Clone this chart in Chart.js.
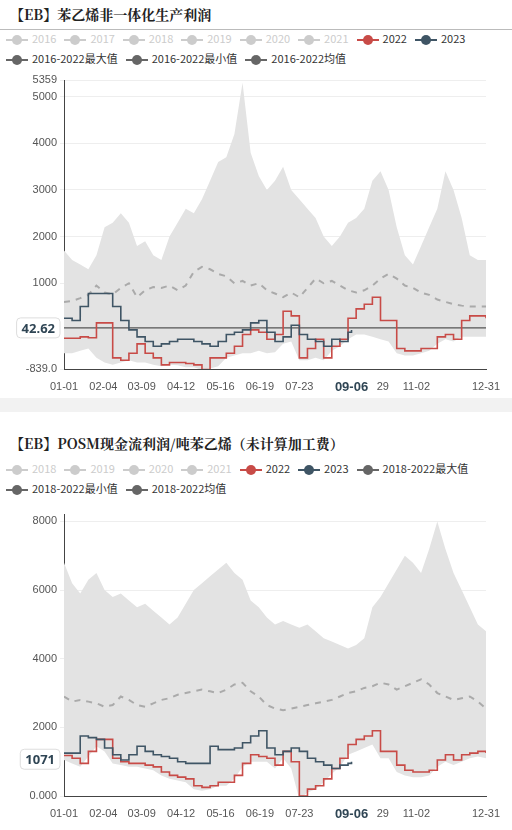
<!DOCTYPE html>
<html lang="zh">
<head>
<meta charset="UTF-8">
<script src="https://cdn.jsdelivr.net/npm/chart.js"></script>
<style>
  body { margin: 0; width: 512px; height: 830px; position: relative; background: #fff; font-family: "Noto Sans CJK SC", "Noto Sans", sans-serif; overflow: hidden; }
  .title { position: absolute; left: 10px; font-family: "Noto Serif CJK SC", "Noto Sans CJK SC", serif; font-weight: bold; font-size: 14px; color: #222; }
  .rule { position: absolute; left: 0; width: 512px; height: 1px; background: #bbb; }
  .gap { position: absolute; left: 0; top: 398px; width: 512px; height: 14px; background: #f2f2f2; }
  .legend { position: absolute; left: 6px; width: 506px; font-size: 11px; color: #333; }
  .legend span { display: inline-block; margin-right: 8px; line-height: 20px; white-space: nowrap; }
  .legend i { display: inline-block; position: relative; width: 22px; height: 2px; vertical-align: middle; margin-right: 4px; }
  .legend i::after { content: ""; position: absolute; left: 6px; top: -4px; width: 10px; height: 10px; border-radius: 50%; background: inherit; }
  .wrap { position: absolute; left: 0; width: 512px; }
</style>
</head>
<body>
<div class="title" style="top:4px">【EB】苯乙烯非一体化生产利润</div>
<div class="rule" style="top:29px"></div>
<div class="legend" id="leg1" style="top:28px"></div>
<div class="wrap" style="top:70px;height:330px"><canvas id="c1"></canvas></div>
<div class="gap"></div>
<div class="title" style="top:433px">【EB】POSM现金流利润/吨苯乙烯（未计算加工费）</div>
<div class="legend" id="leg2" style="top:458px"></div>
<div class="wrap" style="top:505px;height:325px"><canvas id="c2"></canvas></div>

<script>
// shared x: day of year, weekly samples
const days = [0,7,14,21,28,35,42,49,56,63,70,77,84,91,98,105,112,119,126,133,140,147,154,161,168,175,182,189,196,203,210,217,224,231,238,245,252,259,266,273,280,287,294,301,308,315,322,329,336,343,350,357,364];
const days23 = [0,7,14,21,28,35,42,49,56,63,70,77,84,91,98,105,112,119,126,133,140,147,154,161,168,175,182,189,196,203,210,217,224,231,238,245,248];
const tickDays = [0,34,67,101,135,169,203,248,275,304,364];
const tickLabels = ['01-01','02-04','03-09','04-12','05-16','06-19','07-23','09-06','29','11-02','12-31'];

// chart 1: 苯乙烯非一体化生产利润
const max1 = [1700,1500,1400,1300,1600,2200,2300,2500,2300,1800,1900,1600,1500,2000,2300,2600,2500,2800,3200,3600,3700,4200,5300,3800,3300,3000,3200,3500,3000,2800,2600,2400,2000,1800,2000,2300,2400,2600,3200,3400,3000,2200,1600,1400,1800,2200,2600,3400,3000,2400,1600,1500,1500];
const min1 = [-500,-500,-450,-400,-600,-700,-750,-700,-650,-700,-700,-750,-780,-750,-760,-800,-800,-860,-830,-780,-600,-550,-500,-500,-450,-500,-480,-300,-250,-650,-650,-600,-650,-450,-350,-200,-100,-100,-150,-200,-250,-500,-550,-550,-500,-450,-300,-200,-250,-150,-150,-150,-150];
const mean1 = [600,620,680,750,950,800,760,900,1000,700,850,920,900,950,850,950,1250,1350,1300,1200,1150,1000,1050,950,1000,850,780,700,800,700,900,1100,1000,1050,950,850,800,850,950,1100,1200,1100,950,900,800,750,650,600,550,520,500,500,500];
const y2022a = [-180,-180,-150,-170,150,150,-600,-650,-500,-300,-500,-600,-750,-700,-700,-720,-750,-850,-600,-600,-500,-350,-100,0,-50,-200,-100,400,300,-600,-400,-200,-600,-350,-200,250,450,550,700,200,200,-400,-450,-450,-400,-400,-150,-100,-200,200,300,300,250];
const y2023a = [250,200,500,780,780,780,500,200,0,-150,-250,-350,-300,-250,-200,-200,-250,-300,-350,-250,-100,-50,0,150,200,-50,-250,-150,100,-100,-200,-250,-350,-200,-250,-50,0];
const last1 = 42.62;

// chart 2: POSM现金流利润
const max2 = [6800,6200,5900,6300,6500,6000,5800,5900,5700,5500,5600,5400,5200,5000,5200,5600,6000,6200,6400,6600,6800,6500,6300,5700,5500,5200,5000,5100,5000,4900,5000,4800,4600,4500,4400,4300,4400,4600,5500,5800,6200,6600,7000,6800,6500,7200,8000,7200,6500,6000,5500,5000,4800];
const min2 = [1050,950,850,1150,1450,1300,950,900,850,850,800,750,600,500,450,400,200,150,200,300,300,500,850,1000,1000,1000,800,1100,800,-100,100,200,400,650,850,1200,1300,1400,1500,1100,1100,700,600,550,550,600,850,1000,900,1000,1100,1150,1100];
const mean2 = [2900,2750,2800,2750,2700,2600,2650,2900,2800,2650,2600,2700,2800,2850,2950,3000,3050,3100,3050,3000,3100,3250,3300,3050,2900,2650,2550,2500,2550,2600,2650,2700,2750,2800,2900,3000,3050,3150,3200,3300,3250,3100,3200,3300,3400,3250,3000,2900,2800,2850,2900,2750,2550];
const y2022b = [1180,1100,950,1300,1650,1650,1100,1000,950,950,900,850,700,600,550,500,300,250,300,400,400,600,950,1200,1150,1100,900,1300,1000,0,200,300,500,800,1100,1500,1650,1750,1900,1300,1300,900,750,700,700,750,1050,1200,1050,1200,1250,1300,1250];
const y2023b = [1250,1250,1750,1700,1650,1400,1200,1050,1200,1450,1300,1200,1150,1100,1000,950,950,950,1450,1350,1350,1400,1550,1750,1900,1400,1200,1300,1400,1300,1100,1000,900,800,900,950,1000];
const last2 = 1071;

const RED = '#c84b47', DARK = '#3f5565', GRAY = '#666';

function legend(id, years, stat) {
  const el = document.getElementById(id);
  let html = '';
  years.forEach(y => html += `<span style="color:#ccc"><i style="background:#ccc"></i>${y}</span>`);
  html += `<span><i style="background:${RED}"></i>2022</span><span><i style="background:${DARK}"></i>2023</span>`;
  ['最大值', '最小值', '均值'].forEach(s => html += `<span><i style="background:${GRAY}"></i>${stat}${s}</span>`);
  el.innerHTML = html;
}
legend('leg1', ['2016','2017','2018','2019','2020','2021'], '2016-2022');
legend('leg2', ['2018','2019','2020','2021'], '2018-2022');

const pts = (xs, ys) => ys.map((v, i) => ({ x: xs[i], y: v }));

const valueBox = {
  id: 'valueBox',
  afterDraw(chart, args, opts) {
    const { ctx, scales: { y } } = chart;
    const py = y.getPixelForValue(opts.value);
    ctx.save();
    ctx.font = 'bold 13px "Noto Sans", sans-serif';
    const w = ctx.measureText(opts.text).width + 10;
    const x0 = y.right - w - 4;
    ctx.fillStyle = '#fff';
    ctx.strokeStyle = '#ddd';
    ctx.beginPath();
    ctx.roundRect(x0, py - 10, w, 20, 4);
    ctx.fill(); ctx.stroke();
    ctx.fillStyle = '#2f4554';
    ctx.textBaseline = 'middle';
    ctx.fillText(opts.text, x0 + 5, py + 1);
    ctx.restore();
  }
};

function makeChart(id, c) {
  // lower order is drawn on top
  const datasets = [
    { data: pts(days, c.max), borderWidth: 0, pointRadius: 0, fill: '+1', backgroundColor: '#e3e3e3', order: 10 },
    { data: pts(days, c.min), borderWidth: 0, pointRadius: 0, fill: false, order: 11 },
    { data: pts(days, c.mean), borderColor: '#aaa', borderWidth: 2, borderDash: [6, 6], pointRadius: 0, fill: false, order: 5 },
    { data: pts(days, c.r), borderColor: RED, borderWidth: 1.6, pointRadius: 0, stepped: true, fill: false, order: 3 },
    { data: pts(days23, c.d), borderColor: DARK, borderWidth: 1.6, pointRadius: 0, stepped: true, fill: false, order: 2 }
  ];
  if (c.hline) datasets.push({ data: [{ x: 0, y: c.last }, { x: 364, y: c.last }], borderColor: '#555', borderWidth: 1.2, pointRadius: 0, fill: false, order: 4 });
  return new Chart(document.getElementById(id), {
    type: 'line',
    data: { datasets },
    plugins: [valueBox],
    options: {
      responsive: true, maintainAspectRatio: false, animation: false,
      layout: { padding: { top: c.padTop, right: 26, left: 0, bottom: 0 } },
      plugins: { legend: { display: false }, tooltip: { enabled: false }, valueBox: { value: c.last, text: c.label } },
      scales: {
        x: {
          type: 'linear', min: 0, max: 364,
          afterBuildTicks: s => { s.ticks = tickDays.map(v => ({ value: v })); },
          afterFit: s => { s.height = c.xh; },
          ticks: {
            autoSkip: false, maxRotation: 0,
            font: ctx => ctx.tick && ctx.tick.value === 248 ? { size: 13, weight: 'bold' } : { size: 11 },
            color: ctx => ctx.tick && ctx.tick.value === 248 ? '#2f4554' : '#555',
            callback: v => tickLabels[tickDays.indexOf(v)]
          },
          grid: { display: false, drawTicks: true },
          border: { color: '#444' }
        },
        y: {
          min: c.ymin, max: c.ymax,
          afterBuildTicks: s => { s.ticks = c.yticks.map(v => ({ value: v })); },
          afterFit: s => { s.width = 64; },
          ticks: { color: '#555', font: { size: 11 }, callback: v => c.yfmt(v) },
          grid: { color: '#eee', tickLength: 4 },
          border: { color: '#444' }
        }
      }
    }
  });
}

makeChart('c1', {
  max: max1, min: min1, mean: mean1, r: y2022a, d: y2023a, last: last1, label: '42.62', hline: true,
  ymin: -839, ymax: 5359, yticks: [-839, 1000, 2000, 3000, 4000, 5000, 5359],
  yfmt: v => v === -839 ? '-839.0' : String(v), padTop: 10, xh: 31
});
makeChart('c2', {
  max: max2, min: min2, mean: mean2, r: y2022b, d: y2023b, last: last2, label: '1071', hline: false,
  ymin: 0, ymax: 8200, yticks: [0, 2000, 4000, 6000, 8000],
  yfmt: v => v === 0 ? '0.000' : String(v), padTop: 7, xh: 34
});
</script>
</body>
</html>
